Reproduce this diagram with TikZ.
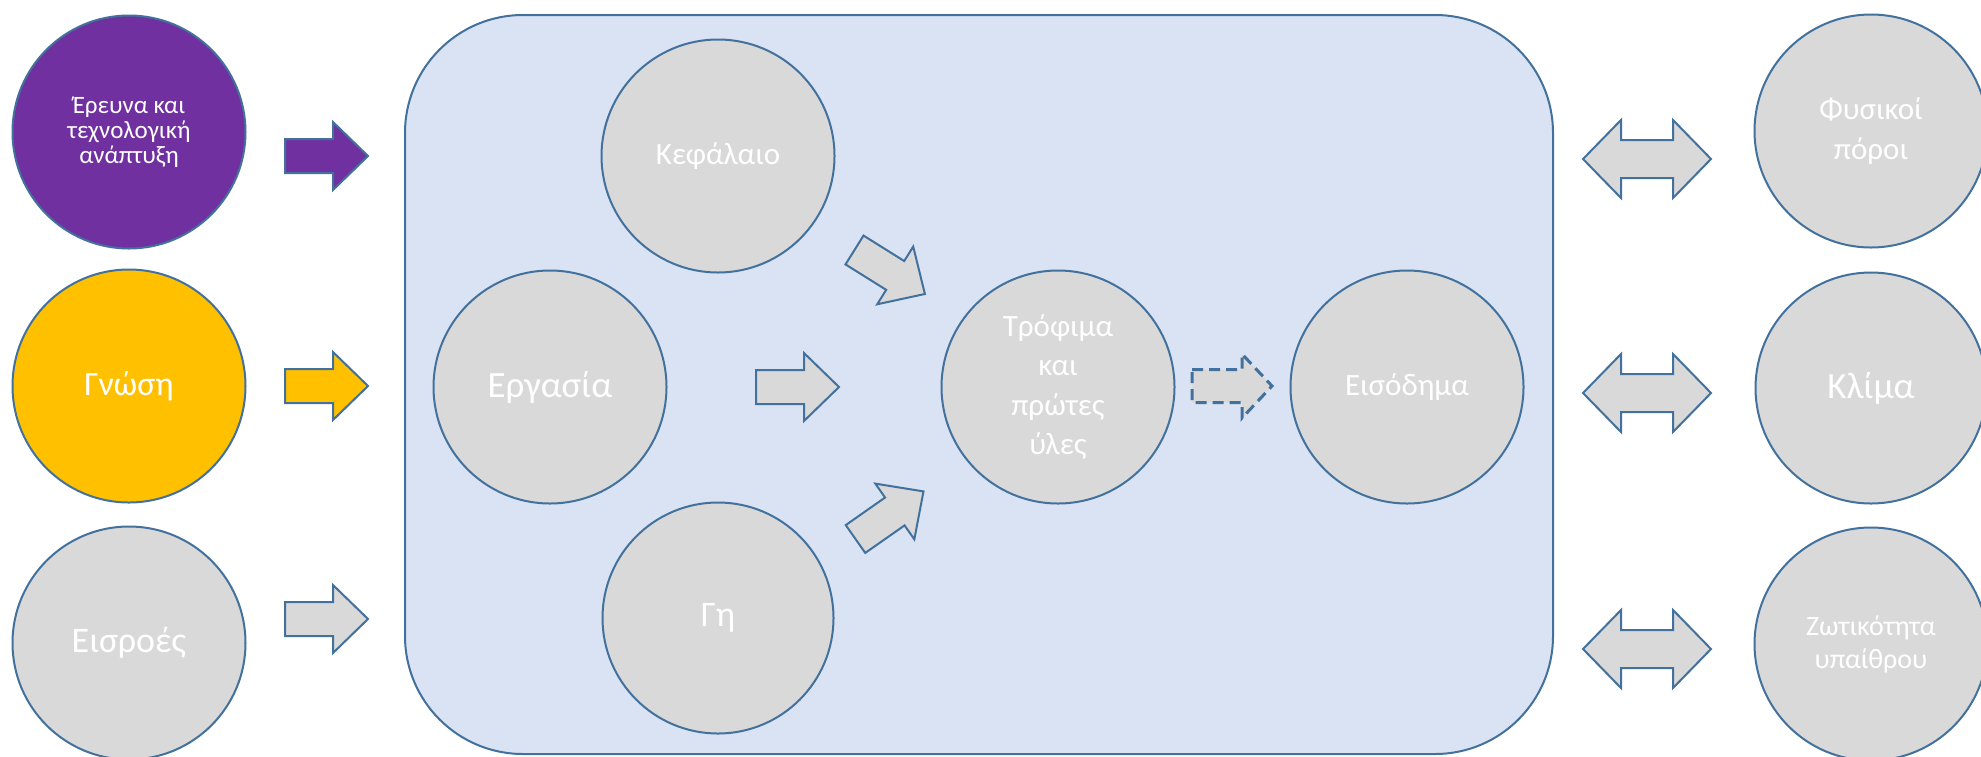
\documentclass[tikz,border=0pt]{standalone}
\usepackage{fontspec}
\setmainfont{Carlito}
\definecolor{edge}{HTML}{41719C}
\definecolor{cgrey}{HTML}{D9D9D9}
\definecolor{cpurple}{HTML}{7030A0}
\definecolor{cgold}{HTML}{FFC000}
\definecolor{cpanel}{HTML}{DAE3F3}
\newcommand{\fs}[2]{\fontsize{#1}{#2}\selectfont}
\tikzset{
  bubble/.style={circle, draw=edge, line width=2pt, fill=cgrey, minimum size=233pt,
    inner sep=0pt, align=center, text=white},
  arrowline/.style={draw=edge, line width=2pt, line join=miter},
  pics/sarrow/.style={code={
    \path[arrowline, fill=#1] (0,-17)--(48,-17)--(48,-34)--(83,0)--(48,34)--(48,17)--(0,17)--cycle;}},
  pics/darrow/.style={code={
    \path[arrowline, fill=cgrey] (-64,0)--(-26,-39)--(-26,-19)--(26,-19)--(26,-39)--(64,0)
      --(26,39)--(26,19)--(-26,19)--(-26,39)--cycle;}},
  pics/dasharrow/.style={code={
    \path[draw=edge, line width=3pt, dash pattern=on 11pt off 6pt, fill=cgrey]
      (0,-16.5)--(50,-16.5)--(50,-32)--(80,0)--(50,32)--(50,16.5)--(0,16.5)--cycle;}},
}
\begin{document}
\begin{tikzpicture}[x=1pt,y=-1pt]
\useasboundingbox (0,0) rectangle (1981,756);
\clip (0,0) rectangle (1981,756);
\fill[white] (0,0) rectangle (1981,756);
% panel
\path[draw=edge, line width=2pt, fill=cpanel, rounded corners=118pt] (405,15) rectangle (1553,754);
% left column
\node[bubble, fill=cpurple, font=\fs{25}{25}] (res) at (129,132) {Έρευνα και\\τεχνολογική\\ανάπτυξη};
\node[bubble, fill=cgold, font=\fs{34}{40}] (kno) at (129,386) {Γνώση};
\node[bubble, font=\fs{36}{42}] (inp) at (129,643) {Εισροές};
% inside panel
\node[bubble, font=\fs{31}{36}] (cap) at (718,156) {Κεφάλαιο};
\node[bubble, font=\fs{37}{42}] (lab) at (550,387) {Εργασία};
\node[bubble, minimum size=231pt, font=\fs{36}{42}] (land) at (718,618) {Γη};
\node[bubble, font=\fs{31}{39.5}] (food) at (1058,387) {Τρόφιμα\\και\\πρώτες\\ύλες};
\node[bubble, font=\fs{31}{36}] (inc) at (1407,387) {Εισόδημα};
% right column
\node[bubble, font=\fs{31}{40}] (nat) at (1871,131) {Φυσικοί\\πόροι};
\node[bubble, minimum size=231pt, font=\fs{37}{42}] (cli) at (1871,388) {Κλίμα};
\node[bubble, font=\fs{28}{33}] (vit) at (1871,644) {Ζωτικότητα\\υπαίθρου};
% block arrows
\pic at (285,156) {sarrow=cpurple};
\pic at (285,386) {sarrow=cgold};
\pic at (285,619) {sarrow=cgrey};
\pic at (756,387) {sarrow=cgrey};
\pic[rotate=-32] at (854.5,250) {sarrow=cgrey};
\pic[rotate=35] at (855.5,539) {sarrow=cgrey};
\pic at (1192,386) {dasharrow};
\pic at (1647,159) {darrow};
\pic at (1647,393) {darrow};
\pic at (1647,649) {darrow};
\end{tikzpicture}
\end{document}
